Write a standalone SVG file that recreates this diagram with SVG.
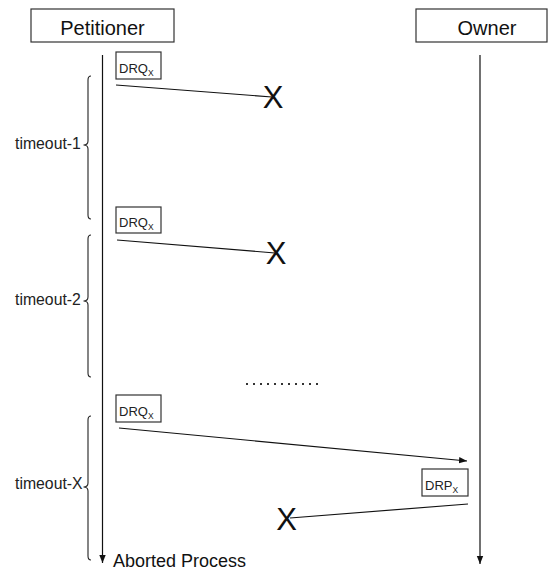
<svg xmlns="http://www.w3.org/2000/svg" width="549" height="571" viewBox="0 0 549 571">
  <defs>
    <marker id="head" viewBox="0 0 10 10" refX="10" refY="5" markerWidth="8" markerHeight="8" markerUnits="userSpaceOnUse" orient="auto">
      <path d="M0,1 L10,5 L0,9 Z" fill="#111"/>
    </marker>
    <style>
      .box { fill: #fff; stroke: #333; stroke-width: 1.2; }
      .title { font-family: "Liberation Sans", Arial, sans-serif; font-size: 20px; fill: #111; text-anchor: middle; }
      .msg { font-family: "Liberation Sans", Arial, sans-serif; font-size: 13px; fill: #222; }
      .sub { font-size: 8.5px; }
      .lbl { font-family: "Liberation Sans", Arial, sans-serif; font-size: 15.8px; fill: #222; }
      .cross { font-family: "Liberation Sans", Arial, sans-serif; font-size: 31px; fill: #111; text-anchor: middle; }
      .line { stroke: #111; stroke-width: 1.2; fill: none; }
      .brace { stroke: #222; stroke-width: 1.1; fill: none; }
    </style>
  </defs>

  <!-- participants -->
  <g id="petitioner">
    <rect class="box" x="31" y="9" width="143" height="33"/>
    <text class="title" x="102.5" y="34.5">Petitioner</text>
  </g>
  <g id="owner">
    <rect class="box" x="416" y="9" width="131" height="33"/>
    <text class="title" x="487" y="34.5">Owner</text>
  </g>

  <!-- message labels -->
  <g id="drq1">
    <rect class="box" x="116" y="52" width="45" height="27"/>
    <text class="msg" x="119" y="72.5">DRQ<tspan class="sub" dy="3">X</tspan></text>
  </g>
  <g id="drq2">
    <rect class="box" x="116" y="207" width="45" height="26"/>
    <text class="msg" x="119" y="227">DRQ<tspan class="sub" dy="3">X</tspan></text>
  </g>
  <g id="drq3">
    <rect class="box" x="116" y="395" width="45" height="27"/>
    <text class="msg" x="119" y="415.5">DRQ<tspan class="sub" dy="3">X</tspan></text>
  </g>
  <g id="drp">
    <rect class="box" x="422" y="469" width="46" height="27"/>
    <text class="msg" x="425" y="489.5">DRP<tspan class="sub" dy="3">X</tspan></text>
  </g>

  <!-- lost-message marks -->
  <g id="lost1"><text class="cross" x="273" y="108">X</text></g>
  <g id="lost2"><text class="cross" x="276" y="263.5">X</text></g>
  <g id="lost3"><text class="cross" x="286.5" y="530">X</text></g>

  <!-- timeout labels and braces -->
  <g id="timeout1">
    <text class="lbl" x="15" y="149">timeout-1</text>
    <path class="brace" d="M91,76 Q88,76 88,80 L88,141 Q88,145 83.5,145 Q88,145 88,149 L88,215 Q88,219 91,219"/>
  </g>
  <g id="timeout2">
    <text class="lbl" x="15" y="305">timeout-2</text>
    <path class="brace" d="M91,235 Q88,235 88,239 L88,297 Q88,301 83.5,301 Q88,301 88,305 L88,373 Q88,377 91,377"/>
  </g>
  <g id="timeoutX">
    <text class="lbl" x="15" y="488.5">timeout-X</text>
    <path class="brace" d="M91,416 Q88,416 88,420 L88,483 Q88,487 83.5,487 Q88,487 88,491 L88,556 Q88,560 91,560"/>
  </g>

  <!-- elided rounds -->
  <g id="ellipsis">
    <line x1="246" y1="384" x2="318" y2="384" stroke="#333" stroke-width="2" stroke-dasharray="2 5"/>
  </g>

  <g id="aborted">
    <text font-family="Liberation Sans, Arial, sans-serif" font-size="18" fill="#111" x="113" y="566.5">Aborted Process</text>
  </g>

  <!-- lifelines and messages -->
  <g id="connectors">
    <line class="line" x1="102.5" y1="55" x2="102.5" y2="563" marker-end="url(#head)"/>
    <line class="line" x1="480" y1="55" x2="480" y2="564" marker-end="url(#head)"/>
    <line class="line" x1="116" y1="85" x2="272" y2="97"/>
    <line class="line" x1="117" y1="240" x2="275" y2="253"/>
    <line class="line" x1="119" y1="428" x2="467" y2="461" marker-end="url(#head)"/>
    <line class="line" x1="468" y1="504" x2="290" y2="518"/>
  </g>
</svg>
